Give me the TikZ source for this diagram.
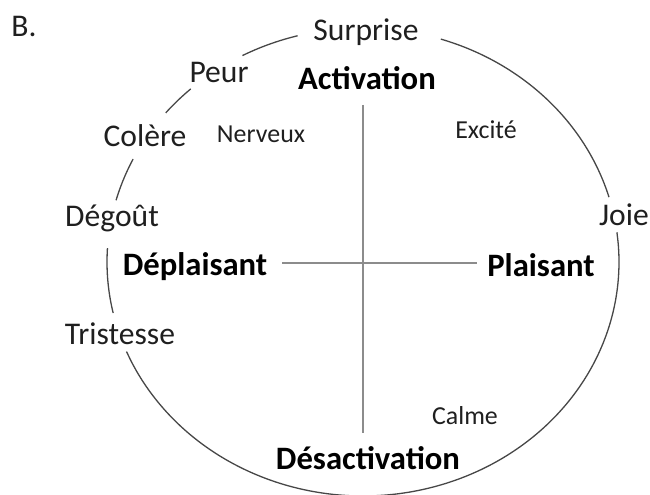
\documentclass[tikz,border=0pt]{standalone}
\usepackage{fontspec}
\setmainfont{Carlito}
\begin{document}
\begin{tikzpicture}[x=1bp,y=-1bp,
  lab/.style={inner sep=0pt,font=\fontsize{31.7}{36}\selectfont,text=black!88},
  axlab/.style={inner sep=0pt,font=\fontsize{32.8}{38}\selectfont\bfseries,text=black},
  sml/.style={inner sep=0pt,font=\fontsize{26}{30}\selectfont,text=black!88},
  ring/.style={draw=black!72,line width=1.3bp,smooth},
  axis/.style={draw=black!45,line width=1.3bp}]
\useasboundingbox (0,0) rectangle (650,495);
\def\cx{363}\def\cy{262}\def\rx{256}\def\ry{234}
% labels
\node[lab] (B) at (24,26) {B.};
\node[lab] (surprise) at (366,32) {Surprise};
\node[lab] (peur) at (219,72) {Peur};
\node[lab] (colere) at (145,136) {Colère};
\node[lab] (degout) at (112,218) {Dégoût};
\node[lab] (tristesse) at (120,334) {Tristesse};
\node[lab] (joie) at (624,215) {Joie};
\node[axlab] (act) at (367,78) {Activation};
\node[axlab] (desact) at (368,458) {Désactivation};
\node[axlab] (deplais) at (195,267) {Déplaisant};
\node[axlab] (plais) at (541,265) {Plaisant};
\node[sml] (nerveux) at (261,134) {Nerveux};
\node[sml] (excite) at (486,130) {Excité};
\node[sml] (calme) at (465,416) {Calme};
% axes
\coordinate (top) at (363,105);
\coordinate (bot) at (363,433);
\coordinate (lft) at (282,263);
\coordinate (rgt) at (477,263);
\draw[axis] (top) -- (bot);
\draw[axis] (lft) -- (rgt);
% ring segments between the labels
\foreach \a/\b in {287.7/343.9, -7.3/157.5, 167.4/183.4, 195.3/206.1, 219.6/227.7, 241.9/255.2}
  \draw[ring,variable=\t,domain=\a:\b,samples=60] plot ({\cx+\rx*cos(\t)},{\cy+\ry*sin(\t)});
\end{tikzpicture}
\end{document}
